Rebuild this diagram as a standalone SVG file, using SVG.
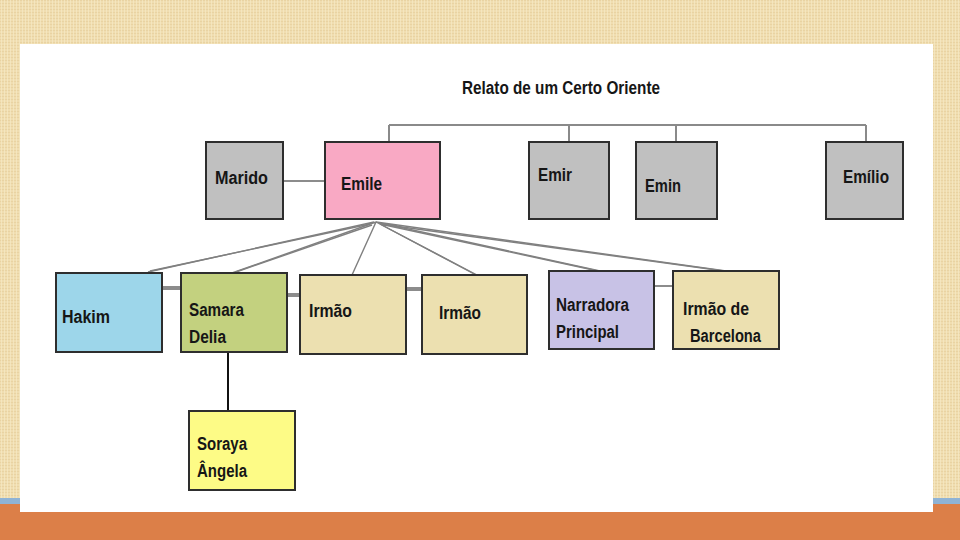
<svg xmlns="http://www.w3.org/2000/svg" width="960" height="540" viewBox="0 0 960 540">
<defs>
<pattern id="linen" width="6" height="6" patternUnits="userSpaceOnUse">
<rect width="6" height="6" fill="#f0ddb0"/>
<path d="M0 0.5H6M0 3.5H6" stroke="#e6cf9c" stroke-width="0.7"/>
<path d="M1.5 0V6M4.5 0V6" stroke="#f7e9c6" stroke-width="0.7"/>
</pattern>
<style>
.box{stroke:#2e2e2e;stroke-width:2}
.gray{fill:#c0c0c0}
.tan{fill:#ece0b0}
.t{font-family:"Liberation Sans",Arial,sans-serif;font-size:18px;font-weight:bold;fill:#161616}
.tree{stroke:#8a8a8a;stroke-width:2;fill:none}
.fan{stroke:#808080;stroke-width:1.4;fill:none}
.link{stroke:#8c8c8c;fill:none}
</style>
</defs>
<rect width="960" height="540" fill="url(#linen)"/>
<rect x="0" y="498" width="960" height="7" fill="#8fb3d5"/>
<rect x="0" y="504" width="960" height="36" fill="#dc7f48"/>
<rect x="20" y="44" width="913" height="468" fill="#ffffff"/>

<text class="t" x="462" y="94" textLength="198" lengthAdjust="spacingAndGlyphs">Relato de um Certo Oriente</text>

<g id="connectors">
<path class="tree" d="M389 125H866M389 125V142M569 125V142M676 125V142M866 125V142"/>
<path class="link" stroke-width="2" d="M282 181H325"/>
<path class="fan" d="M374 222L148 272M376 222L232 273M376 222L352 275M376 222L477 275M376 222L600 271M376 222L726 271"/>
<path class="fan" d="M370 224L150 271M372 225L236 272M380 224L476 275M380 224L598 271M380 224L724 271" stroke-width="0.8"/>
<path class="link" stroke-width="4" d="M162 288H181M287 295H300M406 289H422"/>
<path class="link" stroke-width="2" d="M654 286H673"/>
<path d="M228 352V414" stroke="#111" stroke-width="2" fill="none"/>
</g>

<g id="marido"><rect class="box gray" x="206" y="142" width="77" height="77"/><text class="t" x="215" y="184" textLength="53" lengthAdjust="spacingAndGlyphs">Marido</text></g>
<g id="emile"><rect class="box" fill="#f9a9c4" x="325" y="142" width="115" height="77"/><text class="t" x="341" y="190" textLength="41" lengthAdjust="spacingAndGlyphs">Emile</text></g>
<g id="emir"><rect class="box gray" x="529" y="142" width="80" height="77"/><text class="t" x="538" y="181" textLength="34" lengthAdjust="spacingAndGlyphs">Emir</text></g>
<g id="emin"><rect class="box gray" x="636" y="142" width="81" height="77"/><text class="t" x="645" y="192" textLength="36" lengthAdjust="spacingAndGlyphs">Emin</text></g>
<g id="emilio"><rect class="box gray" x="826" y="142" width="77" height="77"/><text class="t" x="843" y="183" textLength="46" lengthAdjust="spacingAndGlyphs">Emílio</text></g>

<g id="hakim"><rect class="box" fill="#9dd6ea" x="56" y="273" width="106" height="79"/><text class="t" x="62" y="323" textLength="48" lengthAdjust="spacingAndGlyphs">Hakim</text></g>
<g id="samara"><rect class="box" fill="#c3d17f" x="181" y="273" width="106" height="79"/><text class="t" x="189" y="316" textLength="55" lengthAdjust="spacingAndGlyphs">Samara</text><text class="t" x="189" y="343" textLength="37" lengthAdjust="spacingAndGlyphs">Delia</text></g>
<g id="irmao1"><rect class="box tan" x="300" y="275" width="106" height="79"/><text class="t" x="309" y="317" textLength="43" lengthAdjust="spacingAndGlyphs">Irmão</text></g>
<g id="irmao2"><rect class="box tan" x="422" y="275" width="105" height="79"/><text class="t" x="439" y="319" textLength="42" lengthAdjust="spacingAndGlyphs">Irmão</text></g>
<g id="narradora"><rect class="box" fill="#c8c2e6" x="549" y="271" width="105" height="78"/><text class="t" x="556" y="311" textLength="73" lengthAdjust="spacingAndGlyphs">Narradora</text><text class="t" x="556" y="338" textLength="63" lengthAdjust="spacingAndGlyphs">Principal</text></g>
<g id="barcelona"><rect class="box tan" x="673" y="271" width="106" height="78"/><text class="t" x="683" y="315" textLength="66" lengthAdjust="spacingAndGlyphs">Irmão de</text><text class="t" x="690" y="342" textLength="71" lengthAdjust="spacingAndGlyphs">Barcelona</text></g>
<g id="soraya"><rect class="box" fill="#fdfb86" x="189" y="411" width="106" height="79"/><text class="t" x="197" y="450" textLength="50" lengthAdjust="spacingAndGlyphs">Soraya</text><text class="t" x="197" y="477" textLength="50" lengthAdjust="spacingAndGlyphs">Ângela</text></g>
</svg>
